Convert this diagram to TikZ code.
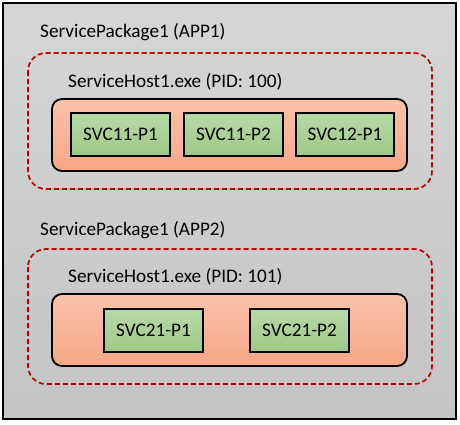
\documentclass[tikz,border=0pt]{standalone}
\usepackage{fontspec}
\setmainfont{Carlito}
\begin{document}
\begin{tikzpicture}[x=1pt,y=-1pt,
  outerbox/.style={draw=black,line width=1.2pt,top color={rgb,255:red,214;green,214;blue,214},bottom color={rgb,255:red,196;green,196;blue,196}},
  pkgbox/.style={draw={rgb,255:red,192;green,0;blue,0},dashed,dash pattern=on 5pt off 3pt,line width=1.7pt,rounded corners=18pt},
  hostbox/.style={draw=black,line width=1.8pt,rounded corners=10pt,top color={rgb,255:red,249;green,195;blue,172},bottom color={rgb,255:red,247;green,166;blue,134}},
  svcbox/.style={draw=black,line width=1.8pt,top color={rgb,255:red,183;green,217;blue,168},bottom color={rgb,255:red,157;green,202;blue,132},font=\fontsize{19.2}{21}\selectfont},
  lbl/.style={anchor=west,inner sep=0pt,font=\fontsize{19.2}{21}\selectfont}
]
\useasboundingbox (0,0) rectangle (460,424);
\path[outerbox] (3,3) rectangle (456,419);
% package 1
\node[lbl] (t1) at (40,32) {ServicePackage1 (APP1)};
\path[pkgbox] (28,53) rectangle (432,189);
\node[lbl] (h1) at (68,82) {ServiceHost1.exe (PID: 100)};
\path[hostbox] (52,99) rectangle (407,171);
\path[svcbox] (71,113) rectangle (170,156) node[midway,draw=none,fill=none] (s11) {SVC11-P1};
\path[svcbox] (184,113) rectangle (283,156) node[midway,draw=none,fill=none] (s12) {SVC11-P2};
\path[svcbox] (296,113) rectangle (394,156) node[midway,draw=none,fill=none] (s13) {SVC12-P1};
% package 2
\node[lbl] (t2) at (40,230) {ServicePackage1 (APP2)};
\path[pkgbox] (28,249) rectangle (432,384);
\node[lbl] (h2) at (68,277) {ServiceHost1.exe (PID: 101)};
\path[hostbox] (52,294) rectangle (407,366);
\path[svcbox] (104,309) rectangle (203,352) node[midway,draw=none,fill=none] (s21) {SVC21-P1};
\path[svcbox] (250,309) rectangle (349,352) node[midway,draw=none,fill=none] (s22) {SVC21-P2};
\end{tikzpicture}
\end{document}
